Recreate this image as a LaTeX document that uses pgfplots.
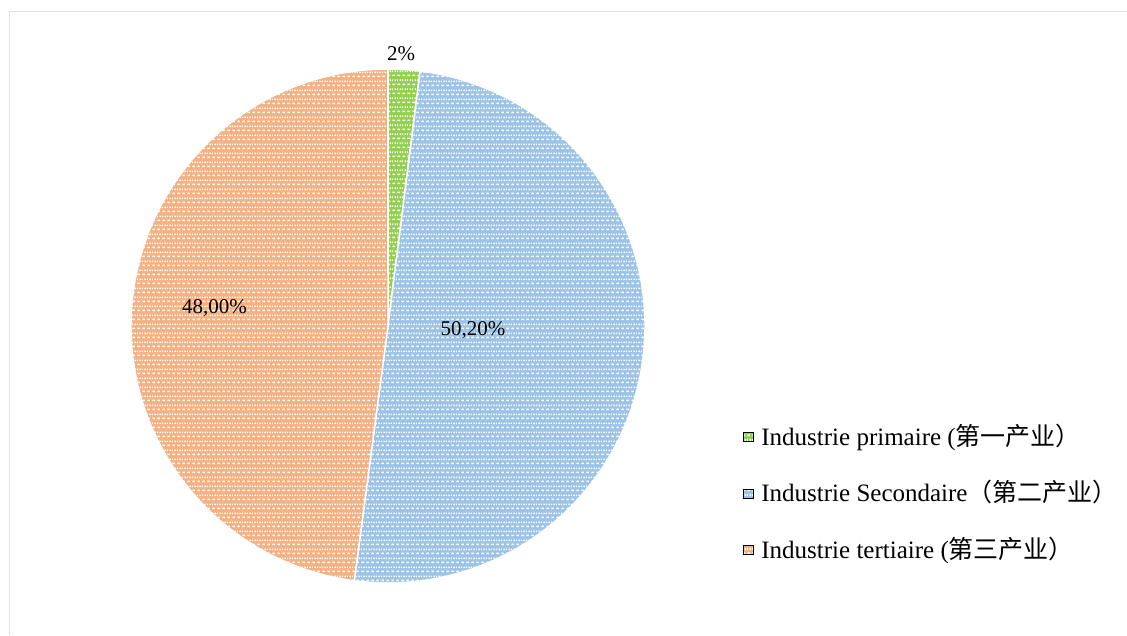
\documentclass[border=0pt]{standalone}
\usepackage{pgfplots}
\pgfplotsset{compat=1.18}
\usepackage{pgfplotstable}
\usetikzlibrary{patterns.meta}
\usepackage{fontspec}
\setmainfont{Liberation Serif}
\newfontfamily\cjk{Noto Sans CJK SC}
\definecolor{cPrim}{HTML}{92D050}
\definecolor{cSec}{HTML}{9DC3E6}
\definecolor{cTer}{HTML}{F4B183}
\definecolor{cFrame}{HTML}{E2E2E2}
\pgfdeclarepattern{
  name=dashbrick,
  type=uncolored,
  bottom left={\pgfpoint{0pt}{0pt}},
  top right={\pgfpoint{4.5pt}{9pt}},
  tile size={\pgfpoint{4.5pt}{9pt}},
  code={
    \pgfpathrectangle{\pgfpoint{0.5pt}{1pt}}{\pgfpoint{2.8pt}{1.7pt}}
    \pgfpathrectangle{\pgfpoint{2.75pt}{5.5pt}}{\pgfpoint{1.75pt}{1.7pt}}
    \pgfpathrectangle{\pgfpoint{0pt}{5.5pt}}{\pgfpoint{1.05pt}{1.7pt}}
    \pgfusepath{fill}
  }
}
\pgfplotstableread{
sector value
1 2
2 50.2
3 48
}\piedata
\begin{document}%
\pgfplotstablegetelem{0}{value}\of\piedata\let\vA\pgfplotsretval%
\pgfplotstablegetelem{1}{value}\of\piedata\let\vB\pgfplotsretval%
\pgfplotstablegetelem{2}{value}\of\piedata\let\vC\pgfplotsretval%
\pgfmathsetmacro\tot{\vA+\vB+\vC}%
\pgfmathsetmacro\aA{90}%
\pgfmathsetmacro\aB{90-360*(\vA/\tot)}%
\pgfmathsetmacro\aC{\aB-360*(\vB/\tot)}%
\pgfmathsetmacro\aD{\aC-360*(\vC/\tot)}%
\begin{tikzpicture}
\begin{axis}[
  x=1pt, y=1pt,
  xmin=0, xmax=1127, ymin=0, ymax=635,
  hide axis, clip=false,
  legend cell align=left,
  legend image code/.code={\path[#1] (0pt,-4.5pt) rectangle (10pt,4.5pt); \path (18pt,0pt);},
  legend style={
    at={(axis cs:743,209.75)}, anchor=north west,
    draw=none, fill=none, inner sep=0pt, outer sep=0pt,
    row sep=33pt,
    font=\fontsize{25}{30}\selectfont,
    nodes={inner sep=0pt, text height=20pt, text depth=3.5pt},
  },
]
% frame
\draw[cFrame, line width=1pt] (axis cs:9.5,0) -- (axis cs:9.5,623) -- (axis cs:1127,623);
% slices
\path[fill=cPrim, postaction={pattern=dashbrick, pattern color=white}, postaction={draw=white, line width=1.5pt}]
  (axis cs:388,309) -- ++(\aA:257pt) arc[start angle=\aA, end angle=\aB, radius=257pt] -- cycle;
\path[fill=cSec, postaction={pattern=dashbrick, pattern color=white}, postaction={draw=white, line width=1.5pt}]
  (axis cs:388,309) -- ++(\aB:257pt) arc[start angle=\aB, end angle=\aC, radius=257pt] -- cycle;
\path[fill=cTer, postaction={pattern=dashbrick, pattern color=white}, postaction={draw=white, line width=1.5pt}]
  (axis cs:388,309) -- ++(\aC:257pt) arc[start angle=\aC, end angle=\aD, radius=257pt] -- cycle;
% data labels
\node[anchor=base, font=\fontsize{21}{25}\selectfont, inner sep=0pt] at (axis cs:401,574.3) {2\%};
\node[anchor=base, font=\fontsize{21}{25}\selectfont, inner sep=0pt] at (axis cs:473,299) {50,20\%};
\node[anchor=base, font=\fontsize{21}{25}\selectfont, inner sep=0pt] at (axis cs:214.5,321.7) {48,00\%};
% legend
\addlegendimage{fill=cPrim, postaction={pattern=dashbrick, pattern color=white}}
\addlegendentry{Industrie primaire ({\cjk 第一产业）}}
\addlegendimage{fill=cSec, postaction={pattern=dashbrick, pattern color=white}}
\addlegendentry{Industrie Secondaire{\cjk （第二产业）}}
\addlegendimage{fill=cTer, postaction={pattern=dashbrick, pattern color=white}}
\addlegendentry{Industrie tertiaire ({\cjk 第三产业）}}
\end{axis}
\pgfresetboundingbox
\useasboundingbox (0,0) rectangle (1127pt,635pt);
\end{tikzpicture}%
\end{document}
